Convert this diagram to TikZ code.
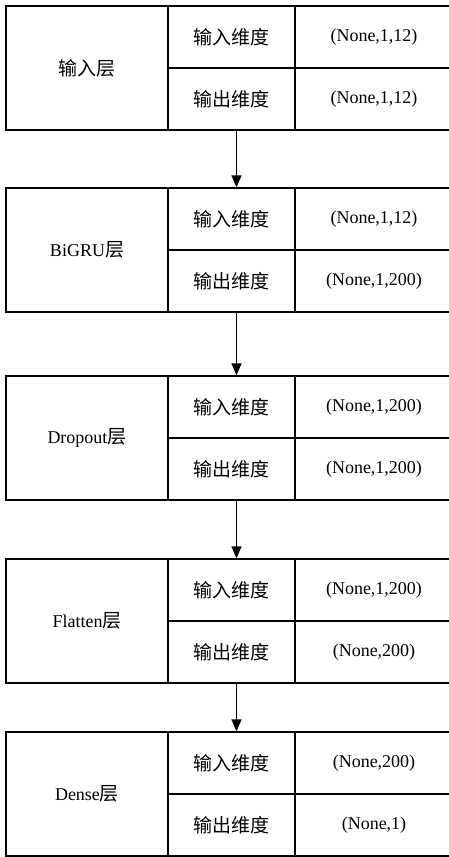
\documentclass[tikz,border=0pt]{standalone}
\usepackage{fontspec}
\setmainfont{Liberation Serif}
\newfontfamily\cjk{Noto Sans CJK SC}
\usetikzlibrary{arrows.meta}
\newcommand\zh[1]{{\cjk\fontsize{19}{21}\selectfont #1}}
\begin{document}
\begin{tikzpicture}[x=1pt,y=-1pt,
  cell/.style={draw,line width=1.3pt,inner sep=0pt,font=\fontsize{18}{20}\selectfont},
  leftcell/.style={cell,minimum width=162pt,minimum height=124pt},
  midcell/.style={cell,minimum width=127pt,minimum height=62pt},
  valcell/.style={cell,minimum width=158pt,minimum height=62pt},
  arr/.style={-{Triangle[width=10pt,length=12pt]},line width=1.3pt}]
\useasboundingbox (0,0) rectangle (449,857);
\clip (0,0) rectangle (449,857);
\foreach \i/\t/\lab/\vin/\vout in {
  1/6/{\zh{输入层}}/{(None,1,12)}/{(None,1,12)},
  2/188/{BiGRU\zh{层}}/{(None,1,12)}/{(None,1,200)},
  3/376/{Dropout\zh{层}}/{(None,1,200)}/{(None,1,200)},
  4/559/{Flatten\zh{层}}/{(None,1,200)}/{(None,200)},
  5/732/{Dense\zh{层}}/{(None,200)}/{(None,1)}}{
  \node[leftcell] (L\i) at (87,\t+62) {\lab};
  \node[midcell] (I\i) at (231.5,\t+31) {\zh{输入维度}};
  \node[midcell] (O\i) at (231.5,\t+93) {\zh{输出维度}};
  \node[valcell] (VI\i) at (374,\t+31) {\vin};
  \node[valcell] (VO\i) at (374,\t+93) {\vout};
}
\foreach \i/\j in {1/2,2/3,3/4,4/5}
  \draw[arr] ([xshift=5pt]O\i.south) -- ([xshift=5pt]I\j.north);
\end{tikzpicture}
\end{document}
